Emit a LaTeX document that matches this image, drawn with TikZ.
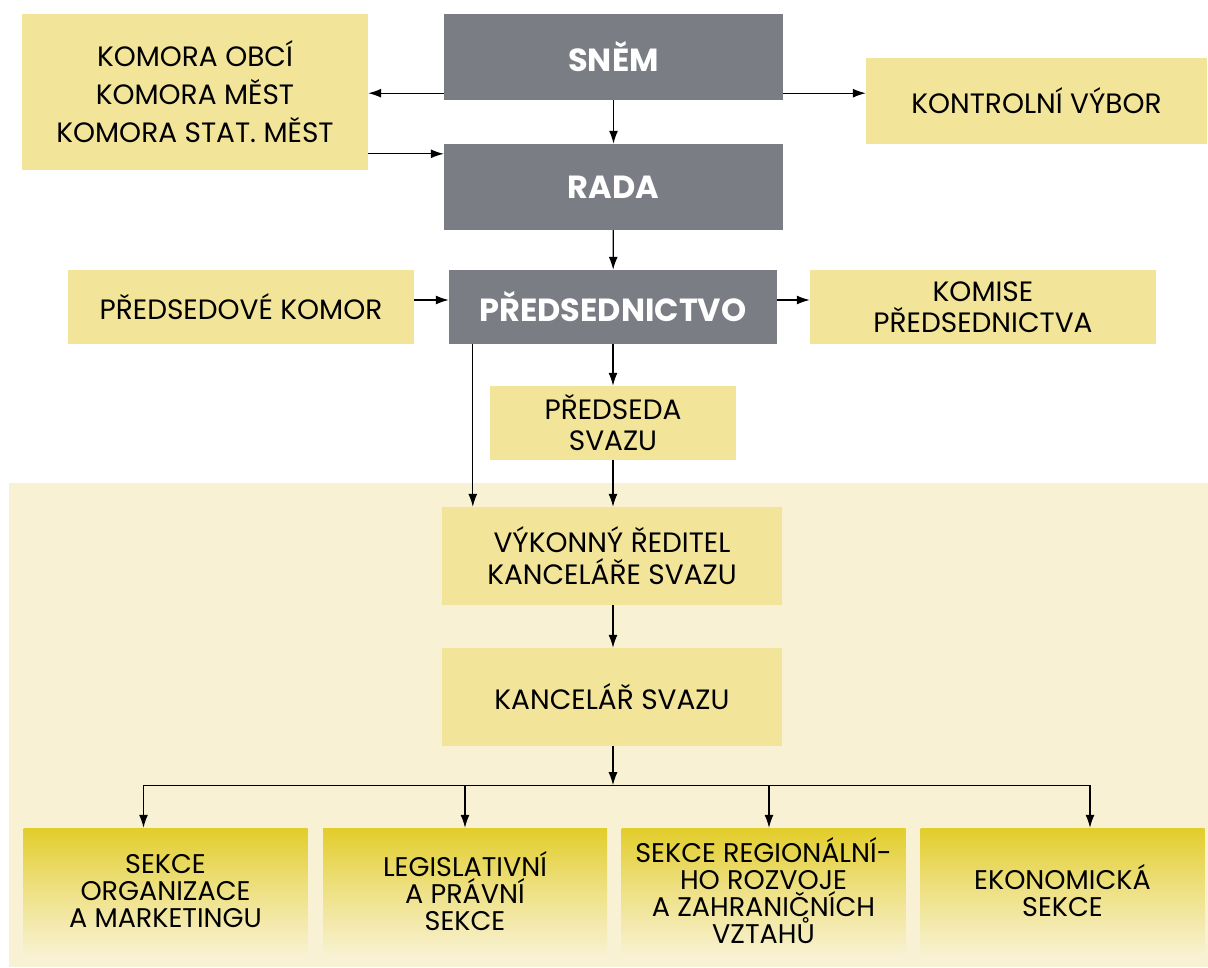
\documentclass[tikz,border=0pt]{standalone}
\usepackage{fontspec}
\setmainfont{Poppins}
\usetikzlibrary{arrows.meta,calc}
\definecolor{ybox}{HTML}{F2E499}
\definecolor{gbox}{HTML}{7A7D84}
\definecolor{panel}{HTML}{F8F1D4}
\definecolor{gtop}{HTML}{E2CD2A}
\definecolor{gbot}{HTML}{F8F1D0}
\tikzset{
  yb/.style={fill=ybox, inner sep=0pt, align=center, font=\fontsize{28}{34}\selectfont},
  gb/.style={fill=gbox, inner sep=0pt, align=center, text=white, font=\fontsize{32}{36}\selectfont\bfseries},
  sb/.style={top color=gtop, bottom color=gbot, middle color=gtop!45!gbot, inner sep=0pt, align=center, minimum width=284pt, minimum height=126pt, font=\fontsize{27}{27}\selectfont},
  arr/.style={-{Latex[length=13pt,width=9pt]}, line width=1.3pt},
  ln/.style={line width=1.3pt}
}
\begin{document}
\begin{tikzpicture}[x=1pt,y=-1pt]
\useasboundingbox (0,0) rectangle (1208,967);
\fill[white] (0,0) rectangle (1208,967);
\fill[panel] (9,483) rectangle (1208,967);
% top part
\node[yb, minimum width=346pt, minimum height=156pt, font=\fontsize{28}{38}\selectfont] (komora) at (195,92) {KOMORA OBCÍ\\KOMORA MĚST\\KOMORA STAT. MĚST};
\node[gb, minimum width=339pt, minimum height=86pt] (snem) at (613.5,57) {SNĚM};
\node[yb, minimum width=341pt, minimum height=86pt] (kontrol) at (1036.5,101) {KONTROLNÍ VÝBOR};
\node[gb, minimum width=339pt, minimum height=86pt] (rada) at (613.5,187) {RADA};
\node[yb, minimum width=346pt, minimum height=74pt] (predkom) at (241,307) {PŘEDSEDOVÉ KOMOR};
\node[gb, minimum width=328pt, minimum height=74pt] (predn) at (613,307) {PŘEDSEDNICTVO};
\node[yb, minimum width=346pt, minimum height=74pt, font=\fontsize{28}{31}\selectfont] (komise) at (983,307) {KOMISE\\PŘEDSEDNICTVA};
\node[yb, minimum width=246pt, minimum height=74pt, font=\fontsize{28}{31}\selectfont] (predseda) at (613,423) {PŘEDSEDA\\SVAZU};
\node[yb, minimum width=340pt, minimum height=98pt, font=\fontsize{28}{32}\selectfont] (vykonny) at (612,556) {VÝKONNÝ ŘEDITEL\\KANCELÁŘE SVAZU};
\node[yb, minimum width=340pt, minimum height=98pt] (kancelar) at (612,697) {KANCELÁŘ SVAZU};
% sections
\node[sb] (s1) at (165.5,891) {SEKCE\\ORGANIZACE\\A MARKETINGU};
\node[sb] (s2) at (465,891) {LEGISLATIVNÍ\\A PRÁVNÍ\\SEKCE};
\node[sb] (s3) at (763.5,891) {SEKCE REGIONÁLNÍ-\\HO ROZVOJE\\A ZAHRANIČNÍCH\\VZTAHŮ};
\node[sb] (s4) at (1062.5,891) {EKONOMICKÁ\\SEKCE};
% connectors
\coordinate (a1) at ([yshift=7pt]snem.south west);
\coordinate (a2) at ([yshift=7pt]snem.south east);
\draw[arr] (a1) -- (a1 -| komora.east);
\draw[arr] (a2) -- (a2 -| kontrol.west);
\coordinate (a3) at ([yshift=-10pt]rada.north west);
\draw[arr] (a3 -| komora.east) -- (a3);
\draw[arr] (snem) -- (rada);
\draw[arr] (rada) -- (predn);
\coordinate (a4) at ([yshift=7pt]predn.west);
\coordinate (a5) at ([yshift=7pt]predn.east);
\draw[arr] (a4 -| predkom.east) -- (a4);
\draw[arr] (a5) -- (a5 -| komise.west);
\draw[arr] (predn.south) -- (predseda.north);
\coordinate (a6) at ([xshift=24pt]predn.south west);
\draw[arr] (a6) -- (a6 |- vykonny.north);
\draw[arr] (predseda.south) -- (predseda.south |- vykonny.north);
\draw[arr] (vykonny.south -| predn.south) -- (kancelar.north -| predn.south);
\coordinate (bus) at ([yshift=-39pt]kancelar.south -| predn.south);
\draw[arr] (kancelar.south -| predn.south) -- (bus);
\coordinate (b1) at ([xshift=-22pt]s1.north);
\coordinate (b2) at (s2.north);
\coordinate (b3) at ([xshift=5.5pt]s3.north);
\coordinate (b4) at ([xshift=27.5pt]s4.north);
\draw[ln] (b1 |- bus) -- (b4 |- bus);
\draw[arr] (b1 |- bus) -- (b1);
\draw[arr] (b2 |- bus) -- (b2);
\draw[arr] (b3 |- bus) -- (b3);
\draw[arr] (b4 |- bus) -- (b4);
\end{tikzpicture}
\end{document}
